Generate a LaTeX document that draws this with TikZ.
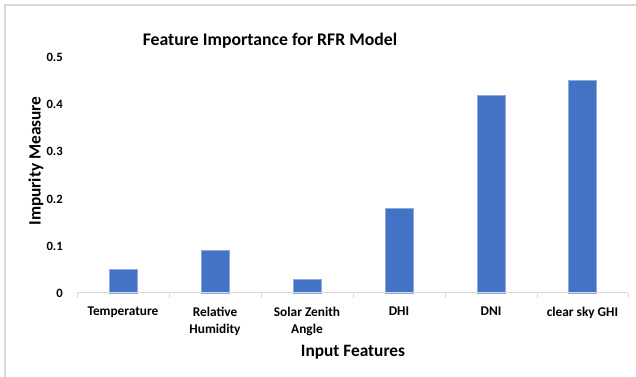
\documentclass[tikz,border=0pt]{standalone}
\usepackage{fontspec}
\setmainfont{Carlito}
\definecolor{barblue}{HTML}{4472C4}
\definecolor{baredge}{HTML}{8FAADC}
\definecolor{axisgray}{HTML}{D9D9D9}

\tikzset{
	bar/.style={fill=barblue, draw=baredge, line width=0.4pt},
	ticklabel/.style={font=\bfseries\fontsize{9.5}{10}\selectfont, anchor=east, inner sep=0pt},
	catlabel/.style={font=\bfseries\fontsize{10}{12.5}\selectfont, align=center, anchor=north, inner sep=0pt},
	axistitle/.style={font=\bfseries\fontsize{13}{15}\selectfont, inner sep=0pt},
}

\begin{document}
\begin{tikzpicture}[x=0.75pt, y=-0.75pt]
	\useasboundingbox (0,0) rectangle (636,377);
	\draw[axisgray, line width=1.1pt] (5,377) -- (5,5) -- (636,5); % chart frame

	\node[font=\bfseries\fontsize{13.3}{15}\selectfont] (title) at (270,41) {Feature Importance for RFR Model};

	% value axis
	\node[ticklabel] (t0) at (63,293) {0};
	\node[ticklabel] (t1) at (63,246) {0.1};
	\node[ticklabel] (t2) at (63,199) {0.2};
	\node[ticklabel] (t3) at (63,151) {0.3};
	\node[ticklabel] (t4) at (63,104) {0.4};
	\node[ticklabel] (t5) at (63,57) {0.5};
	\node[axistitle, rotate=90] (ytitle) at (36,161) {Impurity Measure};

	% bars
	\filldraw[bar] (109,293) rectangle (137,269.4); % Temperature
	\filldraw[bar] (201,293) rectangle (229,250.5); % Relative Humidity
	\filldraw[bar] (293,293) rectangle (321,278.8); % Solar Zenith Angle
	\filldraw[bar] (385,293) rectangle (413,208); % DHI
	\filldraw[bar] (477,293) rectangle (505,94.8); % DNI
	\filldraw[bar] (568.5,293) rectangle (596.5,80.6); % clear sky GHI

	% category axis
	\draw[axisgray, line width=0.75pt] (77,293) -- (628,293);
	\draw[axisgray, line width=0.75pt] (77,293) -- (77,298);
	\draw[axisgray, line width=0.75pt] (169,293) -- (169,298);
	\draw[axisgray, line width=0.75pt] (261,293) -- (261,298);
	\draw[axisgray, line width=0.75pt] (353,293) -- (353,298);
	\draw[axisgray, line width=0.75pt] (445,293) -- (445,298);
	\draw[axisgray, line width=0.75pt] (537,293) -- (537,298);
	\draw[axisgray, line width=0.75pt] (628,293) -- (628,298);

	\node[catlabel] (c1) at (123,307) {Temperature};
	\node[catlabel] (c2) at (215,307) {Relative\\Humidity};
	\node[catlabel] (c3) at (307,307) {Solar Zenith\\Angle};
	\node[catlabel] (c4) at (399,307) {DHI};
	\node[catlabel] (c5) at (491,307) {DNI};
	\node[catlabel] (c6) at (582.5,307) {clear sky GHI};
	\node[axistitle] (xtitle) at (353,352) {Input Features};
\end{tikzpicture}
\end{document}
